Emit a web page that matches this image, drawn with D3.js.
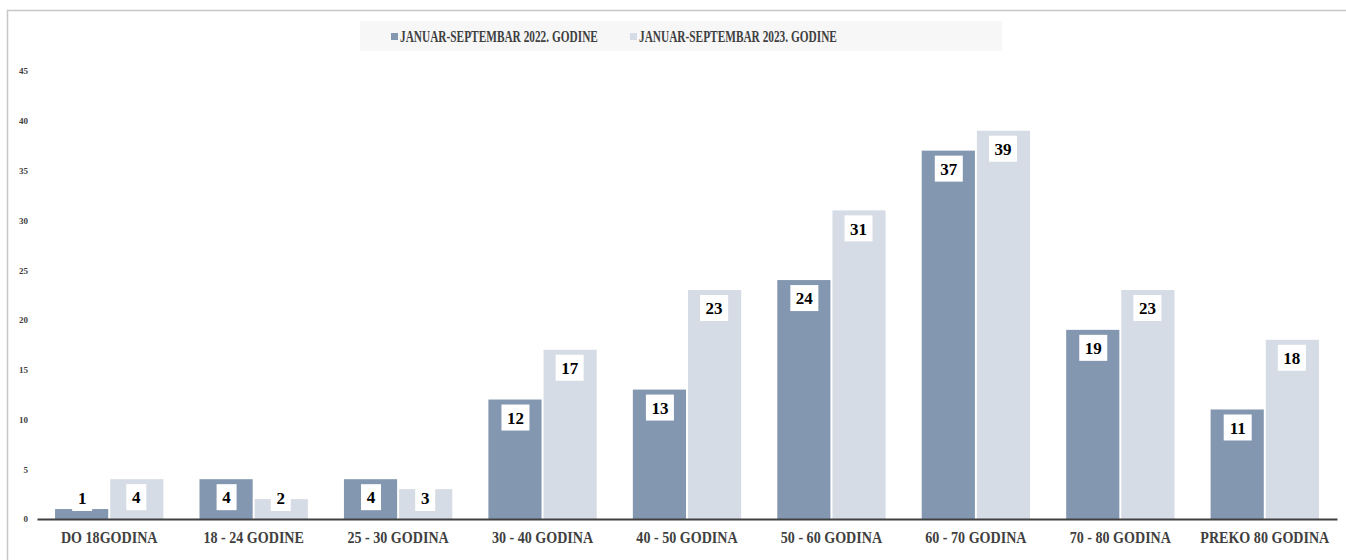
<!DOCTYPE html>
<html>
<head>
<meta charset="utf-8">
<script src="https://cdn.jsdelivr.net/npm/d3@7"></script>
<style>
  body { margin: 0; background: #fff; }
  text { font-family: "Liberation Serif", "DejaVu Serif", serif; font-weight: bold; }
</style>
</head>
<body>
<div id="chart"></div>
<script>
// Chart data
var categories = ["DO 18GODINA", "18 - 24 GODINE", "25 - 30 GODINA", "30 - 40 GODINA", "40 - 50 GODINA",
                  "50 - 60 GODINA", "60 - 70 GODINA", "70 - 80 GODINA", "PREKO 80 GODINA"];
var seriesNames = ["JANUAR-SEPTEMBAR 2022. GODINE", "JANUAR-SEPTEMBAR 2023. GODINE"];
var values2022 = [1, 4, 4, 12, 13, 24, 37, 19, 11];
var values2023 = [4, 2, 3, 17, 23, 31, 39, 23, 18];
var yTicks = [0, 5, 10, 15, 20, 25, 30, 35, 40, 45];
var colors = ["#8497b0", "#d6dce5"];

var W = 1346, H = 560;
var margin = {top: 71, right: 9, bottom: 41, left: 37},
    width = W - margin.left - margin.right,
    height = H - margin.top - margin.bottom;

var root = d3.select("#chart")
  .append("svg")
    .attr("width", W)
    .attr("height", H);

// outer frame (top and left edges visible)
root.append("path")
  .attr("d", "M7.5,560 L7.5,10.5 L1346,10.5")
  .attr("fill", "none")
  .attr("stroke", "#c8c8c8")
  .attr("stroke-width", 1.5);

var svg = root.append("g")
  .attr("transform", "translate(" + margin.left + "," + margin.top + ")");

var data = categories.map(function(c, i) {
  return {cat: c, vals: [values2022[i], values2023[i]]};
});

// X scales
var x = d3.scaleBand()
  .range([0, width])
  .domain(categories)
  .paddingInner(0.25)
  .paddingOuter(0.125);

var x1 = d3.scaleBand()
  .domain([0, 1])
  .range([0, x.bandwidth()]);

// Y scale
var y = d3.scaleLinear()
  .domain([0, 45])
  .range([height, 0]);

// Y axis labels (no line)
var yAxis = svg.append("g")
  .call(d3.axisLeft(y).tickValues(yTicks).tickSize(0).tickPadding(9));
yAxis.select(".domain").remove();
yAxis.selectAll("text")
  .attr("fill", "#404040")
  .style("font-size", "9px")
  .style("font-family", "'Liberation Serif', serif")
  .style("font-weight", "bold");

// Bars
var groups = svg.selectAll(".grp")
  .data(data)
  .enter()
  .append("g")
    .attr("transform", function(d) { return "translate(" + x(d.cat) + ",0)"; });

groups.selectAll("rect")
  .data(function(d) { return d.vals.map(function(v, i) { return {v: v, i: i}; }); })
  .enter()
  .append("rect")
    .attr("x", function(d) { return x1(d.i) + (d.i === 1 ? 1 : 0); })
    .attr("y", function(d) { return y(d.v); })
    .attr("width", x1.bandwidth() - 1)
    .attr("height", function(d) { return height - y(d.v); })
    .attr("fill", function(d) { return colors[d.i]; });

// Data labels in white boxes
var lab = groups.selectAll(".lab")
  .data(function(d) { return d.vals.map(function(v, i) { return {v: v, i: i}; }); })
  .enter()
  .append("g")
    .attr("transform", function(d) {
      var cy = Math.min(y(d.v) + 18, height - 21);
      return "translate(" + (x1(d.i) + x1.bandwidth() / 2) + "," + cy + ")";
    });

lab.append("rect")
  .attr("x", function(d) { return String(d.v).length > 1 ? -14 : -10; })
  .attr("y", -13)
  .attr("width", function(d) { return String(d.v).length > 1 ? 28 : 20; })
  .attr("height", 26)
  .attr("fill", "#fff");

lab.append("text")
  .attr("text-anchor", "middle")
  .attr("dy", "0.36em")
  .style("font-size", "17px")
  .attr("fill", "#000")
  .text(function(d) { return d.v; });

// X axis
var xAxis = svg.append("g")
  .attr("transform", "translate(0," + height + ")")
  .call(d3.axisBottom(x).tickSize(0).tickPadding(13));
xAxis.select(".domain")
  .attr("stroke", "#404040")
  .attr("stroke-width", 2);
xAxis.selectAll("text")
  .attr("fill", "#404040")
  .style("font-size", "16px")
  .style("font-family", "'Liberation Serif', serif")
  .style("font-weight", "bold")
  .attr("transform", "scale(0.88,1)");

// Legend
var legend = root.append("g");
legend.append("rect")
  .attr("x", 360).attr("y", 21)
  .attr("width", 642).attr("height", 30)
  .attr("fill", "#f7f7f7");

var legX = [391, 630];
seriesNames.forEach(function(name, i) {
  legend.append("rect")
    .attr("x", legX[i]).attr("y", 33)
    .attr("width", 7).attr("height", 7)
    .attr("fill", colors[i]);
  var t = legend.append("text")
    .attr("fill", "#404040")
    .style("font-size", "17px")
    .text(name);
  var k = 198 / t.node().getComputedTextLength();
  t.attr("transform", "translate(" + (legX[i] + 9) + ",42) scale(" + k + ",1)");
});
</script>
</body>
</html>
